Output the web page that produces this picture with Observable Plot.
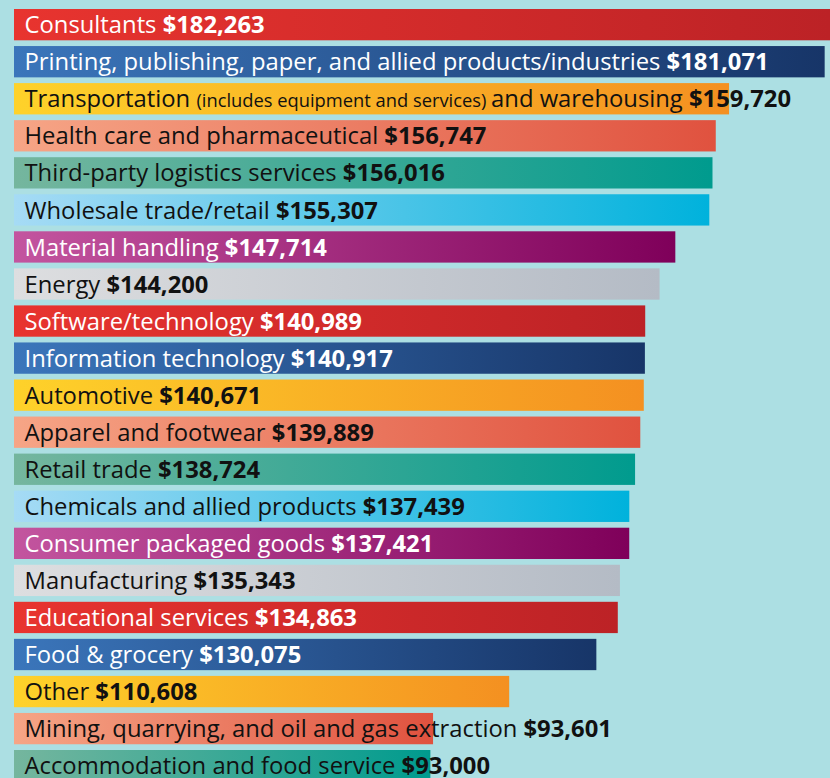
<!DOCTYPE html>
<html>
<head>
<meta charset="utf-8">
<script src="https://cdn.jsdelivr.net/npm/d3@7"></script>
<script src="https://cdn.jsdelivr.net/npm/@observablehq/plot@0.6"></script>
<style>
  html, body { margin: 0; padding: 0; background: #acdfe3; overflow: hidden; }
  #chart { width: 830px; height: 778px; }
</style>
</head>
<body>
<div id="chart"></div>
<script>
const categories = [
  "Consultants",
  "Printing, publishing, paper, and allied products/industries",
  "Transportation (includes equipment and services) and warehousing",
  "Health care and pharmaceutical",
  "Third-party logistics services",
  "Wholesale trade/retail",
  "Material handling",
  "Energy",
  "Software/technology",
  "Information technology",
  "Automotive",
  "Apparel and footwear",
  "Retail trade",
  "Chemicals and allied products",
  "Consumer packaged goods",
  "Manufacturing",
  "Educational services",
  "Food & grocery",
  "Other",
  "Mining, quarrying, and oil and gas extraction",
  "Accommodation and food service"
];
const salaries = [182263, 181071, 159720, 156747, 156016, 155307, 147714, 144200, 140989, 140917,
  140671, 139889, 138724, 137439, 137421, 135343, 134863, 130075, 110608, 93601, 93000];

// 8-colour cycle: gradient start (left), gradient end (right), label ink
const paletteStart = ["#e8342f", "#3b76bb", "#fed22a", "#f6a586", "#75b69e", "#a6dbf5", "#c3559f", "#dddee0"];
const paletteEnd   = ["#bc2226", "#173568", "#f49021", "#e0523f", "#009b8e", "#00b2dc", "#7f005a", "#b4bbc5"];
const labelInk     = ["#ffffff", "#ffffff", "#111111", "#111111", "#111111", "#111111", "#ffffff", "#111111"];

const rows = categories.map((name, i) => ({name, value: salaries[i], group: i % paletteStart.length}));

const defsMark = () => {
  const defs = d3.create("svg:defs");
  paletteStart.forEach((c, k) => {
    const g = defs.append("linearGradient").attr("id", `bar-grad-${k}`)
      .attr("x1", "0%").attr("x2", "100%").attr("y1", "0%").attr("y2", "0%");
    g.append("stop").attr("offset", "0%").attr("stop-color", c);
    g.append("stop").attr("offset", "100%").attr("stop-color", paletteEnd[k]);
  });
  return defs.node();
};

const FONT = "'Open Sans', 'Noto Sans', sans-serif";

const plot = Plot.plot({
  width: 830,
  height: 778,
  marginTop: 0, marginBottom: 0, marginLeft: 14, marginRight: 0,
  style: {background: "#acdfe3", overflow: "visible"},
  x: {domain: [0, d3.max(salaries)], axis: null},
  y: {domain: categories, range: [6.13, 784.18], paddingInner: 0.155, paddingOuter: 0.0775, round: false, axis: null},
  color: {type: "identity"},
  marks: [
    defsMark,
    Plot.barX(rows, {x: "value", y: "name", fill: d => `url(#bar-grad-${d.group})`}),
    Plot.text(rows, {
      x: 0, y: "name", text: "name", textAnchor: "start", dx: 10, dy: 0.5,
      fill: d => labelInk[d.group], fontSize: 23.8, fontFamily: FONT
    })
  ]
});

d3.select(plot).selectAll('g[aria-label="text"] text').each(function() {
  const el = d3.select(this);
  const name = el.text();
  const i = categories.indexOf(name);
  el.text(null);
  const m = name.match(/^(.*?)\s*(\([^)]*\))\s*(.*)$/);
  if (m) {
    el.append("tspan").text(m[1] + " ");
    el.append("tspan").attr("font-size", "0.77em").text(m[2] + " ");
    el.append("tspan").text(m[3] + " ");
  } else {
    el.append("tspan").text(name + " ");
  }
  el.append("tspan").attr("font-weight", "bold").text("$" + d3.format(",")(salaries[i]));
});

document.getElementById("chart").append(plot);
</script>
</body>
</html>
